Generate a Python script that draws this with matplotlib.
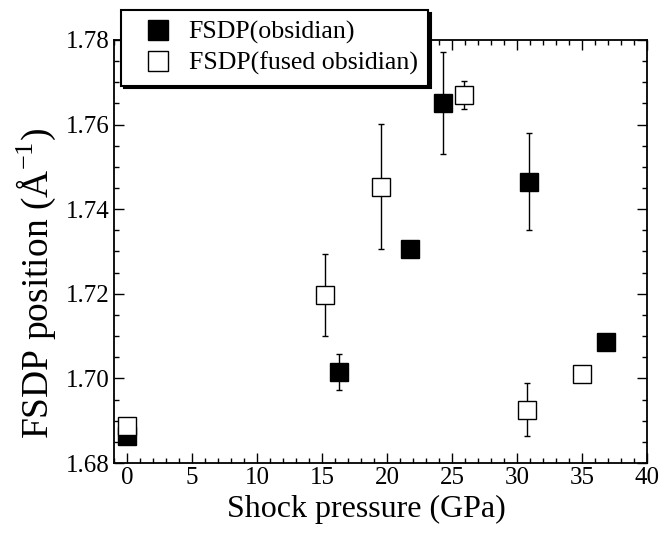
import numpy as np
import matplotlib
matplotlib.use("Agg")
import matplotlib.pyplot as plt
from matplotlib.ticker import MultipleLocator

plt.rcParams['font.family'] = ['Liberation Serif', 'DejaVu Serif']
plt.rcParams['mathtext.fontset'] = 'custom'
plt.rcParams['mathtext.rm'] = 'Liberation Serif'

# obsidian (filled)
p_obs = [0.0, 16.3, 21.8, 24.3, 30.9, 36.8]
fsdp_obs = [1.6865, 1.7015, 1.7306, 1.7651, 1.7465, 1.7086]
err_obs = [0.0, 0.0042, 0.0, 0.0120, 0.0114, 0.0]

# fused obsidian (open)
p_fused = [0.0, 15.2, 19.5, 25.9, 30.8, 35.0]
fsdp_fused = [1.6887, 1.7197, 1.7453, 1.7670, 1.6926, 1.7010]
err_fused = [0.0, 0.0097, 0.0148, 0.0034, 0.0063, 0.0]

fig = plt.figure(figsize=(6.61, 5.38), dpi=100)
ax = fig.add_axes([0.1725, 0.1394, 0.8065, 0.7863])

ax.errorbar(p_obs, fsdp_obs, yerr=err_obs, fmt='s', ms=13.5, mfc='black', mec='black',
            ecolor='black', elinewidth=1, capsize=2.5, capthick=1,
            label='FSDP(obsidian)', zorder=3)
ax.errorbar(p_fused, fsdp_fused, yerr=err_fused, fmt='s', ms=13.5, mfc='white', mec='black',
            mew=1, ecolor='black', elinewidth=1, capsize=2.5, capthick=1,
            label='FSDP(fused obsidian)', zorder=4)

ax.set_xlim(-1, 40)
ax.set_ylim(1.68, 1.78)
ax.xaxis.set_major_locator(MultipleLocator(5))
ax.xaxis.set_minor_locator(MultipleLocator(1))
ax.yaxis.set_major_locator(MultipleLocator(0.02))
ax.yaxis.set_minor_locator(MultipleLocator(0.005))
ax.set_yticklabels(['%.2f' % v for v in ax.get_yticks()])
ax.tick_params(which='both', direction='in', top=True, right=True, labelsize=18, width=1, pad=3)
ax.tick_params(which='major', length=7)
ax.tick_params(which='minor', length=3.5)
for s in ax.spines.values():
    s.set_linewidth(1.3)

ax.set_xlabel('Shock pressure (GPa)', fontsize=23)
ax.xaxis.set_label_coords(0.473, -0.075)
ax.set_ylabel('FSDP position (Å$^{-1}$)', fontsize=27)
ax.yaxis.set_label_coords(-0.106, 0.4255)

handles, labels = ax.get_legend_handles_labels()
handles = [h[0] for h in handles]
leg = ax.legend(handles, labels, loc='upper left', bbox_to_anchor=(0.183, 0.981),
                bbox_transform=fig.transFigure, borderaxespad=0, fontsize=18.6,
                markerscale=1.07, handlelength=2.07, handletextpad=0.15,
                labelspacing=0.3, borderpad=0.4, fancybox=False,
                shadow={'color': 'black', 'alpha': 1}, framealpha=1)
leg.get_frame().set_edgecolor('black')
leg.get_frame().set_linewidth(1.5)
leg.set_zorder(10)

fig.savefig('out.png', dpi=100)
